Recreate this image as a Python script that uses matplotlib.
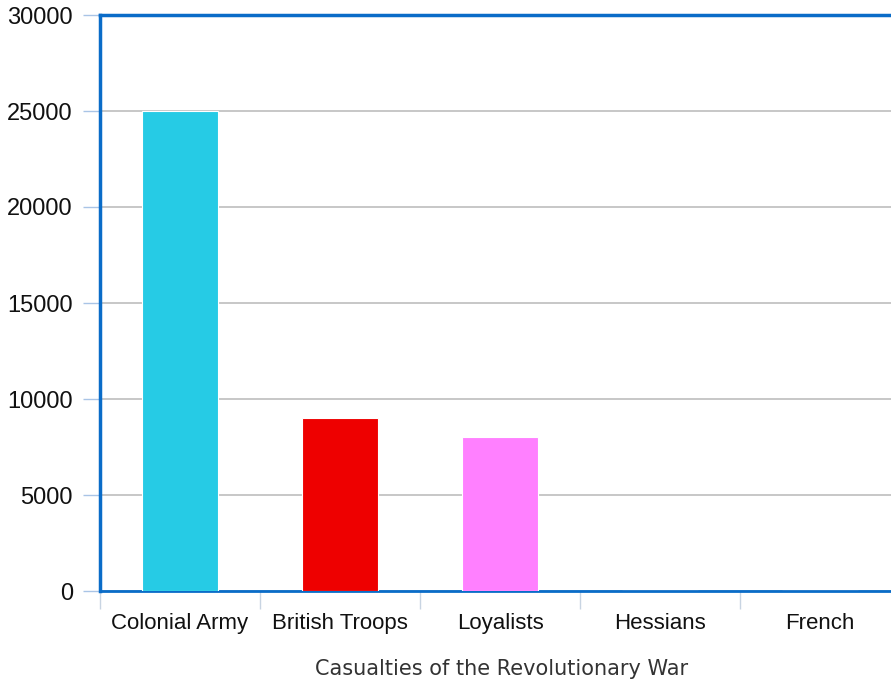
import matplotlib.pyplot as plt
import numpy as np

categories = ["Colonial Army", "British Troops", "Loyalists", "Hessians", "French"]
casualties = [25000, 9000, 8000, 0, 0]
bar_colors = ["#26CBE5", "#EE0000", "#FF80FF", "#26CBE5", "#EE0000"]
y_ticks = [0, 5000, 10000, 15000, 20000, 25000, 30000]

W, H = 891, 683
PT = 72 / 100  # points per pixel
fig = plt.figure(figsize=(W / 100, H / 100), dpi=100)
ax = fig.add_axes([100 / W, (H - 591) / H, 800 / W, 576 / H])

x = np.arange(len(categories))
ax.bar(x, casualties, width=0.47, color=bar_colors, edgecolor="white",
       linewidth=0.8, zorder=3)

ax.set_xlim(-0.5, len(categories) - 0.5)
ax.set_ylim(0, 30000)
ax.set_yticks(y_ticks)
ax.set_yticklabels([str(v) for v in y_ticks], fontsize=17,
                   fontfamily="Liberation Sans", color="#111111")
ax.tick_params(axis="y", length=17 * PT, width=1, color="#A9C4E6", pad=10 * PT)

ax.set_xticks(x)
ax.set_xticklabels(categories, fontsize=16, fontfamily="Liberation Sans",
                   color="#111111")
ax.set_xticks(np.arange(len(categories) + 1) - 0.5, minor=True)
ax.tick_params(axis="x", which="major", length=0, pad=22 * PT)
ax.tick_params(axis="x", which="minor", length=18 * PT, width=1, color="#C8D4E2")

ax.grid(axis="y", color="#BDBDBD", linewidth=1.2, zorder=0)
ax.set_axisbelow(True)

for side in ["left", "top"]:
    ax.spines[side].set_color("#0A6CC8")
    ax.spines[side].set_linewidth(2.5)
ax.spines["bottom"].set_color("#0A6CC8")
ax.spines["bottom"].set_linewidth(2)
ax.spines["right"].set_visible(False)

fig.text(502 / W, 1 - 669 / H, "Casualties of the Revolutionary War",
         ha="center", va="center", fontsize=15, fontfamily="DejaVu Sans",
         color="#333333")

fig.savefig("out.png", dpi=100)
